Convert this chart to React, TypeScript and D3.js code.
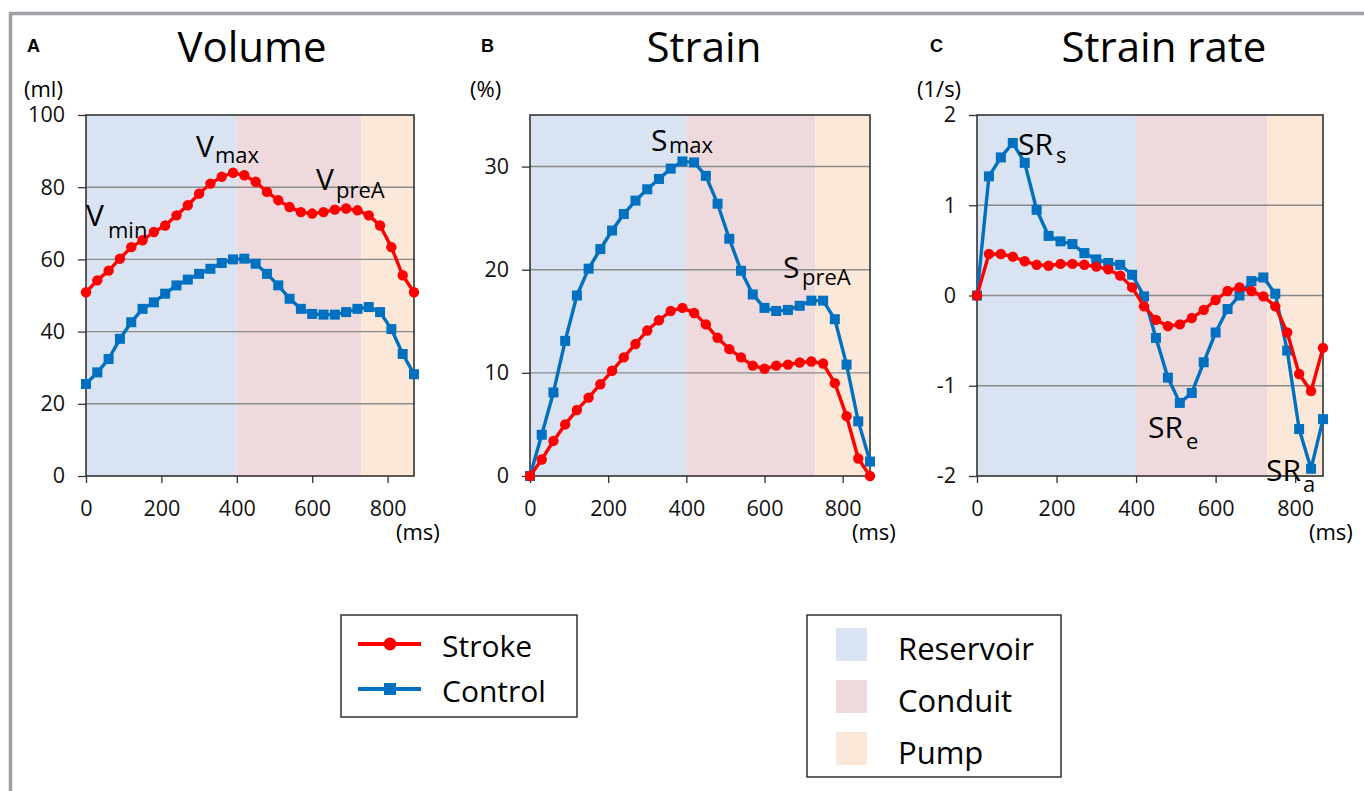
import React, { useEffect, useRef } from 'react';
import * as d3 from 'd3';

// time axis (ms), one sample every ~30 ms
const times = [0, 30, 60, 90, 120, 150, 180, 210, 240, 270, 300, 330, 360, 390, 420, 450, 480, 510, 540, 570, 600, 630, 660, 690, 720, 750, 780, 810, 840, 870];

const volumeStroke = [50.9, 54.2, 56.9, 60.2, 63.4, 65.3, 67.6, 69.4, 72.2, 75.0, 78.2, 81.0, 82.9, 84.0, 83.3, 81.5, 78.7, 76.4, 74.5, 73.1, 72.7, 73.1, 73.8, 74.1, 73.6, 72.2, 69.4, 63.4, 55.6, 50.9];
const volumeControl = [25.5, 28.7, 32.4, 38.0, 42.6, 46.3, 48.1, 50.5, 52.8, 54.4, 56.0, 57.4, 59.0, 60.0, 60.2, 58.8, 56.0, 52.8, 49.1, 46.3, 44.9, 44.7, 44.7, 45.4, 46.3, 46.8, 45.4, 40.7, 33.8, 28.2];

const strainStroke = [0, 1.6, 3.4, 5.0, 6.4, 7.6, 8.9, 10.2, 11.5, 12.8, 14.1, 15.1, 16.0, 16.3, 15.8, 14.7, 13.4, 12.3, 11.5, 10.7, 10.4, 10.7, 10.8, 11.0, 11.1, 10.9, 9.0, 5.8, 1.7, 0];
const strainControl = [0, 4.0, 8.1, 13.1, 17.5, 20.1, 22.0, 23.8, 25.4, 26.7, 27.8, 28.8, 29.8, 30.5, 30.4, 29.1, 26.4, 23.0, 19.9, 17.6, 16.3, 16.0, 16.1, 16.5, 17.0, 17.0, 15.2, 10.8, 5.3, 1.4];

const rateStroke = [0, 0.46, 0.46, 0.43, 0.38, 0.34, 0.33, 0.35, 0.35, 0.34, 0.32, 0.29, 0.22, 0.09, -0.12, -0.27, -0.34, -0.32, -0.25, -0.16, -0.05, 0.05, 0.09, 0.05, -0.01, -0.12, -0.41, -0.87, -1.06, -0.58];
const rateControl = [0, 1.32, 1.53, 1.69, 1.47, 0.95, 0.66, 0.60, 0.57, 0.47, 0.40, 0.36, 0.34, 0.23, -0.01, -0.47, -0.91, -1.19, -1.08, -0.74, -0.41, -0.15, 0, 0.16, 0.20, 0.02, -0.61, -1.48, -1.92, -1.37];

const xTicks = [0, 200, 400, 600, 800];
const volumeTicks = [0, 20, 40, 60, 80, 100];
const strainTicks = [0, 10, 20, 30];
const rateTicks = [-2, -1, 0, 1, 2];

const phaseNames = ['Reservoir', 'Conduit', 'Pump'];
const phaseStarts = [0, 400, 730];
const phaseEnds = [400, 730, 870];
const seriesNames = ['Stroke', 'Control'];

const FONT = '"Open Sans", sans-serif';
const RED = '#ff0000';
const BLUE = '#0070c0';
const PHASE_COLORS = ['#dae3f1', '#eedadd', '#fce8d9'];

const TOP = 115;
const BOTTOM = 476;

const panels = [
  {
    letter: 'A', letterX: 27, title: 'Volume', titleX: 252, unit: '(ml)', unitX: 24, msX: 396,
    left: 86, right: 414, yDomain: [0, 100], yTicks: volumeTicks,
    stroke: volumeStroke, control: volumeControl,
    notes: [
      { main: 'V', sub: 'min', x: 86, y: 226, sx: 108, sy: 238 },
      { main: 'V', sub: 'max', x: 196, y: 157, sx: 215, sy: 163 },
      { main: 'V', sub: 'preA', x: 316, y: 190, sx: 336, sy: 198 },
    ],
  },
  {
    letter: 'B', letterX: 481, title: 'Strain', titleX: 704, unit: '(%)', unitX: 470, msX: 852,
    left: 530, right: 870, yDomain: [0, 35], yTicks: strainTicks,
    stroke: strainStroke, control: strainControl,
    notes: [
      { main: 'S', sub: 'max', x: 651, y: 151, sx: 669, sy: 153 },
      { main: 'S', sub: 'preA', x: 783, y: 278, sx: 802, sy: 285 },
    ],
  },
  {
    letter: 'C', letterX: 930, title: 'Strain rate', titleX: 1164, unit: '(1/s)', unitX: 917, msX: 1309,
    left: 977, right: 1323, yDomain: [-2, 2], yTicks: rateTicks,
    stroke: rateStroke, control: rateControl,
    notes: [
      { main: 'SR', sub: 's', x: 1018, y: 155, sx: 1056, sy: 163 },
      { main: 'SR', sub: 'e', x: 1148, y: 438, sx: 1186, sy: 449 },
      { main: 'SR', sub: 'a', x: 1266, y: 481, sx: 1303, sy: 492 },
    ],
  },
];

function App() {
  const svgRef = useRef(null);

  useEffect(() => {
    const svg = d3.select(svgRef.current);
    svg.selectAll('*').remove();

    // outer grey frame (runs off the right / bottom of the picture)
    svg.append('rect')
      .attr('x', 10.5).attr('y', 13.5)
      .attr('width', 1500).attr('height', 1000)
      .attr('fill', 'none')
      .attr('stroke', '#a0a0a6')
      .attr('stroke-width', 3.5);

    panels.forEach(p => {
      const x = d3.scaleLinear().domain([0, 870]).range([p.left, p.right]);
      const y = d3.scaleLinear().domain(p.yDomain).range([BOTTOM, TOP]);
      const g = svg.append('g');

      // phase backgrounds
      phaseNames.forEach((name, i) => {
        g.append('rect')
          .attr('x', x(phaseStarts[i]))
          .attr('y', TOP)
          .attr('width', x(phaseEnds[i]) - x(phaseStarts[i]))
          .attr('height', BOTTOM - TOP)
          .attr('fill', PHASE_COLORS[i]);
      });

      // horizontal grid
      g.selectAll('.grid')
        .data(p.yTicks.filter(t => y(t) > TOP + 1 && y(t) < BOTTOM - 1))
        .enter()
        .append('line')
        .attr('x1', p.left).attr('x2', p.right)
        .attr('y1', d => y(d)).attr('y2', d => y(d))
        .attr('stroke', '#8a8a8a')
        .attr('stroke-width', 1.4);

      // axes
      const xAxis = g.append('g')
        .attr('transform', 'translate(0,' + BOTTOM + ')')
        .call(d3.axisBottom(x).tickValues(xTicks).tickSize(7).tickSizeOuter(0).tickPadding(18).tickFormat(d => String(d)));
      const yAxis = g.append('g')
        .attr('transform', 'translate(' + p.left + ',0)')
        .call(d3.axisLeft(y).tickValues(p.yTicks).tickSize(8).tickSizeOuter(0).tickPadding(13).tickFormat(d => String(d)));
      [xAxis, yAxis].forEach(a => {
        a.select('.domain').remove();
        a.selectAll('line').attr('stroke', '#333').attr('stroke-width', 1.3);
        a.selectAll('text')
          .attr('font-family', FONT)
          .attr('font-size', 21.5)
          .attr('fill', '#111');
      });

      // plot box
      g.append('rect')
        .attr('x', p.left).attr('y', TOP)
        .attr('width', p.right - p.left).attr('height', BOTTOM - TOP)
        .attr('fill', 'none')
        .attr('stroke', '#333')
        .attr('stroke-width', 1.6);

      const line = d3.line()
        .x((d, i) => x(times[i]))
        .y(d => y(d));

      // control (blue squares)
      g.append('path')
        .attr('d', line(p.control))
        .attr('fill', 'none')
        .attr('stroke', BLUE)
        .attr('stroke-width', 3.4)
        .attr('stroke-linejoin', 'round');
      g.selectAll('.sq')
        .data(p.control)
        .enter()
        .append('rect')
        .attr('x', (d, i) => x(times[i]) - 5)
        .attr('y', d => y(d) - 5)
        .attr('width', 10).attr('height', 10)
        .attr('fill', BLUE);

      // stroke (red circles)
      g.append('path')
        .attr('d', line(p.stroke))
        .attr('fill', 'none')
        .attr('stroke', RED)
        .attr('stroke-width', 3.4)
        .attr('stroke-linejoin', 'round');
      g.selectAll('.dot')
        .data(p.stroke)
        .enter()
        .append('circle')
        .attr('cx', (d, i) => x(times[i]))
        .attr('cy', d => y(d))
        .attr('r', 5.2)
        .attr('fill', RED);

      // annotations
      p.notes.forEach(n => {
        g.append('text')
          .attr('x', n.x).attr('y', n.y)
          .attr('font-family', FONT).attr('font-size', 30)
          .text(n.main);
        g.append('text')
          .attr('x', n.sx).attr('y', n.sy)
          .attr('font-family', FONT).attr('font-size', 22)
          .text(n.sub);
      });

      // titles and labels
      g.append('text')
        .attr('x', p.letterX).attr('y', 52)
        .attr('font-family', '"Liberation Sans", Arial, sans-serif')
        .attr('font-weight', 'bold').attr('font-size', 18)
        .text(p.letter);
      g.append('text')
        .attr('x', p.titleX).attr('y', 62)
        .attr('text-anchor', 'middle')
        .attr('font-family', FONT).attr('font-size', 42)
        .text(p.title);
      g.append('text')
        .attr('x', p.unitX).attr('y', 97)
        .attr('font-family', FONT).attr('font-size', 22)
        .text(p.unit);
      g.append('text')
        .attr('x', p.msX).attr('y', 540)
        .attr('font-family', FONT).attr('font-size', 22)
        .text('(ms)');
    });

    // series legend
    const leg = svg.append('g');
    leg.append('rect')
      .attr('x', 341).attr('y', 615).attr('width', 236).attr('height', 102)
      .attr('fill', '#fff').attr('stroke', '#333').attr('stroke-width', 1.5);
    seriesNames.forEach((name, i) => {
      const cy = 644 + i * 45;
      const color = i === 0 ? RED : BLUE;
      leg.append('line')
        .attr('x1', 358).attr('x2', 421).attr('y1', cy).attr('y2', cy)
        .attr('stroke', color).attr('stroke-width', 4);
      if (i === 0) {
        leg.append('circle').attr('cx', 390).attr('cy', cy).attr('r', 6.5).attr('fill', color);
      } else {
        leg.append('rect').attr('x', 384).attr('y', cy - 6).attr('width', 12).attr('height', 12).attr('fill', color);
      }
      leg.append('text')
        .attr('x', 442).attr('y', cy + 13)
        .attr('font-family', FONT).attr('font-size', 30)
        .text(name);
    });

    // phase legend
    const leg2 = svg.append('g');
    leg2.append('rect')
      .attr('x', 807).attr('y', 615).attr('width', 254).attr('height', 162)
      .attr('fill', '#fff').attr('stroke', '#333').attr('stroke-width', 1.5);
    phaseNames.forEach((name, i) => {
      const top = 628 + i * 52;
      leg2.append('rect')
        .attr('x', 836).attr('y', top).attr('width', 31).attr('height', 33)
        .attr('fill', PHASE_COLORS[i]);
      leg2.append('text')
        .attr('x', 898).attr('y', top + 32)
        .attr('font-family', FONT).attr('font-size', 31)
        .text(name);
    });

    return () => {
      d3.select(svgRef.current).selectAll('*').remove();
    };
  }, []);

  return (
    <svg
      ref={svgRef}
      width={1364}
      height={791}
      style={{ position: 'absolute', left: 0, top: 0, background: '#fff' }}
    />
  );
}

export default App;
